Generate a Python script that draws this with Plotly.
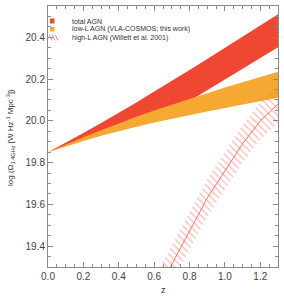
import plotly.graph_objects as go

# ---- data ----
z = [0.0, 0.1, 0.2, 0.3, 0.4, 0.5, 0.6, 0.7, 0.8, 0.9, 1.0, 1.1, 1.2, 1.3]
total_upper = [19.85, 19.895, 19.942, 19.99, 20.038, 20.088, 20.14, 20.19,
               20.243, 20.296, 20.35, 20.403, 20.457, 20.51]
total_lower = [19.85, 19.882, 19.912, 19.94, 19.968, 19.995, 20.022, 20.05,
               20.095, 20.146, 20.197, 20.249, 20.30, 20.352]
lowL_upper = [19.85, 19.887, 19.922, 19.955, 19.988, 20.02, 20.05, 20.078,
              20.105, 20.133, 20.16, 20.185, 20.21, 20.235]
lowL_lower = [19.85, 19.877, 19.903, 19.928, 19.951, 19.972, 19.992, 20.01,
              20.028, 20.045, 20.062, 20.079, 20.095, 20.11]
z_high = [0.6, 0.7, 0.8, 0.9, 1.0, 1.1, 1.2, 1.3]
highL_mid = [19.155, 19.315, 19.475, 19.63, 19.76, 19.89, 20.0, 20.08]
highL_upper = [19.245, 19.405, 19.565, 19.72, 19.85, 19.98, 20.09, 20.17]
highL_lower = [19.065, 19.225, 19.385, 19.54, 19.67, 19.80, 19.91, 19.99]

legend_labels = ["total AGN", "low-L AGN (VLA-COSMOS; this work)",
                 "high-L AGN (Willett et al. 2001)"]

RED = "rgb(239,72,50)"
ORANGE = "rgb(245,168,50)"
HATCH = "rgb(246,115,105)"
AXIS = "#8a8a8a"
TXT = "#333333"
FONT = "Liberation Sans"

fig = go.Figure()

fig.add_trace(go.Scatter(
    x=z + z[::-1], y=total_upper + total_lower[::-1],
    fill="toself", fillcolor=RED, mode="lines", line=dict(width=0),
    hoverinfo="skip", showlegend=False))
fig.add_trace(go.Scatter(
    x=z + z[::-1], y=lowL_upper + lowL_lower[::-1],
    fill="toself", fillcolor=ORANGE, mode="lines", line=dict(width=0),
    hoverinfo="skip", showlegend=False))
fig.add_trace(go.Scatter(
    x=z_high + z_high[::-1], y=highL_upper + highL_lower[::-1],
    fill="toself", fillcolor="rgba(0,0,0,0)", mode="lines", line=dict(width=0),
    fillpattern=dict(shape="\\", fgcolor=HATCH, bgcolor="rgba(0,0,0,0)",
                     size=5, solidity=0.25),
    hoverinfo="skip", showlegend=False))
fig.add_trace(go.Scatter(
    x=z_high, y=highL_mid, mode="lines", line=dict(color=HATCH, width=1),
    hoverinfo="skip", showlegend=False))

# manual legend (paper coordinates)
L, R, T, B = 48, 278, 6, 267
def px(x):
    return (x - L) / (R - L)
def py(y):
    return (B - y) / (B - T)

shapes = [
    dict(type="rect", xref="paper", yref="paper", x0=px(50), x1=px(54.5),
         y0=py(23.5), y1=py(18.5), fillcolor=RED, line=dict(width=0)),
    dict(type="rect", xref="paper", yref="paper", x0=px(50), x1=px(54.5),
         y0=py(31.5), y1=py(27), fillcolor=ORANGE, line=dict(width=0)),
]
for dx in (0, 3, 6):
    shapes.append(dict(type="line", xref="paper", yref="paper",
                       x0=px(49 + dx), y0=py(34.5), x1=px(52 + dx), y1=py(40.5),
                       line=dict(color=HATCH, width=0.8)))
for lab, yy in zip(legend_labels, [21, 29, 37.5]):
    fig.add_annotation(x=px(70), y=py(yy), xref="paper", yref="paper",
                       text=lab, showarrow=False, xanchor="left", yanchor="middle",
                       font=dict(family=FONT, size=7, color=TXT))

# axis titles
fig.add_annotation(x=px(163), y=py(290), xref="paper", yref="paper",
                   text="z", showarrow=False, xanchor="center", yanchor="middle",
                   font=dict(family=FONT, size=9, color=TXT))
fig.add_annotation(x=px(10), y=py(138), xref="paper", yref="paper",
                   text="log (Ω<sub>1.4GHz</sub> [W Hz<sup>-1</sup> Mpc<sup>-3</sup>])",
                   textangle=-90, showarrow=False, xanchor="center", yanchor="middle",
                   font=dict(family=FONT, size=8, color=TXT))

common = dict(showline=True, linecolor=AXIS, linewidth=1, mirror="allticks",
              ticks="inside", ticklen=5, tickcolor=AXIS, tickwidth=1,
              showgrid=False, zeroline=False, tickformat=".1f", automargin=False,
              tickfont=dict(family=FONT, size=10, color="#444444"))

fig.update_layout(
    width=284, height=300,
    margin=dict(l=L, r=284 - R, t=T, b=300 - B),
    paper_bgcolor="white", plot_bgcolor="white",
    shapes=shapes,
    xaxis=dict(range=[0, 1.3], dtick=0.2, tick0=0,
               minor=dict(dtick=0.05, ticklen=3, ticks="inside", tickcolor=AXIS),
               **common),
    yaxis=dict(range=[19.3, 20.55], dtick=0.2, tick0=0,
               minor=dict(dtick=0.05, ticklen=3, ticks="inside", tickcolor=AXIS),
               **common),
)

fig.write_html("out.html", config={"displayModeBar": False},
               post_script="document.body.style.margin='0';document.body.style.padding='0';")
